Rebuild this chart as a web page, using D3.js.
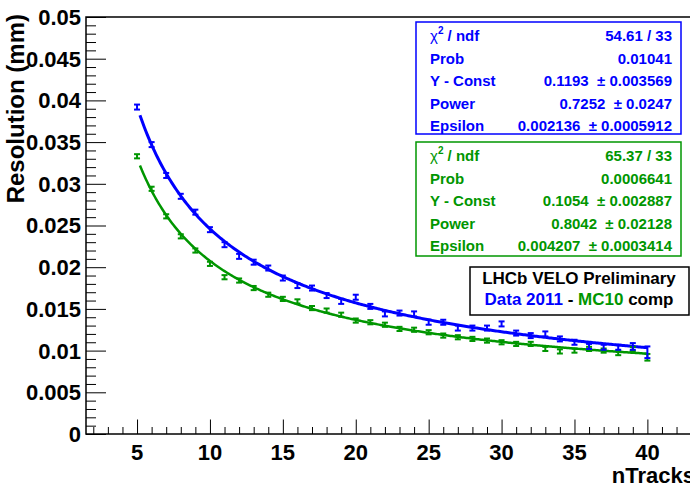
<!DOCTYPE html>
<html>
<head>
<meta charset="utf-8">
<script src="https://cdn.jsdelivr.net/npm/d3@7"></script>
<style>
  html, body { margin: 0; padding: 0; background: #fff; }
  svg { display: block; font-family: "Liberation Sans", Arial, Helvetica, sans-serif; font-weight: bold; }
</style>
</head>
<body>
<svg id="chart" width="690" height="484"></svg>
<script>
// Track multiplicity bins
const nTracks = [5,6,7,8,9,10,11,12,13,14,15,16,17,18,19,20,21,22,23,24,25,26,27,28,29,30,31,32,33,34,35,36,37,38,39,40];

// Data 2011 resolution (mm) and errors
const dataRes = [0.0392,0.0347,0.0310,0.0285,0.0266,0.0245,0.0227,0.0213,0.0206,0.0199,0.0187,0.0178,0.0175,0.0166,0.0159,0.0164,0.0153,0.0144,0.0145,0.0144,0.0134,0.0134,0.0127,0.0127,0.0127,0.0132,0.0121,0.0118,0.0120,0.0114,0.0110,0.0105,0.0104,0.0104,0.0105,0.0098];
const dataErr = [0.0003,0.0003,0.0003,0.0003,0.0003,0.0003,0.0003,0.0003,0.0003,0.0003,0.0003,0.0003,0.0003,0.0003,0.0003,0.0003,0.0003,0.0003,0.0003,0.0003,0.0003,0.0003,0.0003,0.0003,0.0003,0.0003,0.0003,0.0003,0.0003,0.0003,0.0003,0.0003,0.0003,0.0003,0.0004,0.0007];

// MC10 resolution (mm) and errors
const mcRes = [0.0333,0.0294,0.0261,0.0237,0.0220,0.0204,0.0188,0.0184,0.0175,0.0167,0.0162,0.0159,0.0151,0.0148,0.0143,0.0136,0.0134,0.0131,0.0126,0.0125,0.0122,0.0118,0.0116,0.0114,0.0112,0.0110,0.0108,0.0108,0.0102,0.0099,0.0100,0.0102,0.0100,0.0097,0.0102,0.0092];
const mcErr = [0.00025,0.00025,0.00025,0.00025,0.00025,0.00025,0.00025,0.00025,0.00025,0.00025,0.00025,0.00025,0.00025,0.00025,0.00025,0.00025,0.00025,0.00025,0.00025,0.00025,0.00025,0.00025,0.00025,0.00025,0.00025,0.00025,0.00025,0.00025,0.00025,0.00025,0.00025,0.00025,0.00025,0.00025,0.00025,0.0004];

// Fit results: resolution = Const * n^(-Power) + Epsilon
const dataFit = { chi2: "54.61 / 33", prob: "0.01041", yConst: 0.1193, yConstErr: "0.003569", power: 0.7252, powerErr: "0.0247", eps: 0.002136, epsErr: "0.0005912" };
const mcFit   = { chi2: "65.37 / 33", prob: "0.0006641", yConst: 0.1054, yConstErr: "0.002887", power: 0.8042, powerErr: "0.02128", eps: 0.004207, epsErr: "0.0003414" };

const xTicks = [5,10,15,20,25,30,35,40];
const yTicks = [0,0.005,0.01,0.015,0.02,0.025,0.03,0.035,0.04,0.045,0.05];

const BLUE = "#0000ff";
const GREEN = "#009600";

const svg = d3.select("#chart");
const frame = { left: 86, top: 17, right: 713, bottom: 434 };

const x = d3.scaleLinear().domain([1.5, 44.5]).range([frame.left, frame.right]);
const y = d3.scaleLinear().domain([0, 0.05]).range([frame.bottom, frame.top]);

// frame
svg.append("rect")
  .attr("x", frame.left).attr("y", frame.top)
  .attr("width", frame.right - frame.left).attr("height", frame.bottom - frame.top)
  .attr("fill", "none").attr("stroke", "#000").attr("stroke-width", 1.5);

// y axis: major ticks every 0.005, minor every 0.001, drawn inward
const yAxis = d3.axisRight(y).tickValues(yTicks).tickSize(20).tickFormat("");
const gy = svg.append("g").attr("transform", `translate(${frame.left},0)`).call(yAxis);
gy.select(".domain").remove();
const yMinor = d3.range(0, 0.0505, 0.001).filter(v => Math.abs(v / 0.005 - Math.round(v / 0.005)) > 1e-6);
svg.append("g").attr("transform", `translate(${frame.left},0)`)
  .call(d3.axisRight(y).tickValues(yMinor).tickSize(10).tickFormat(""))
  .select(".domain").remove();
svg.append("g").selectAll("text").data(yTicks).join("text")
  .attr("x", 81).attr("y", d => y(d)).attr("dy", "0.36em")
  .attr("text-anchor", "end").attr("font-size", 22)
  .text(d => d === 0 ? "0" : String(+d.toFixed(3)));

// x axis: major every 5, minor every 1, drawn inward
const gx = svg.append("g").attr("transform", `translate(0,${frame.bottom})`)
  .call(d3.axisTop(x).tickValues(xTicks).tickSize(14.5).tickFormat(""));
gx.select(".domain").remove();
const xMinor = d3.range(2, 45, 1).filter(v => v % 5 !== 0);
svg.append("g").attr("transform", `translate(0,${frame.bottom})`)
  .call(d3.axisTop(x).tickValues(xMinor).tickSize(7).tickFormat(""))
  .select(".domain").remove();
svg.append("g").selectAll("text").data(xTicks).join("text")
  .attr("x", d => x(d)).attr("y", 460)
  .attr("text-anchor", "middle").attr("font-size", 22)
  .text(d => d);

svg.selectAll(".tick line").attr("stroke", "#000").attr("stroke-width", 1);

// axis titles (x title right-aligned at the frame's end, beyond the canvas edge)
svg.append("text").attr("x", frame.right - 18).attr("y", 483).attr("text-anchor", "end")
  .attr("font-size", 22).text("nTracks");
svg.append("text").attr("transform", "translate(24,14) rotate(-90)")
  .attr("text-anchor", "end").attr("font-size", 24).text("Resolution (mm)");

// fit curves
function fitLine(p, color, width) {
  const pts = d3.range(5.2, 40.001, 0.1).map(n => [n, p.yConst * Math.pow(n, -p.power) + p.eps]);
  svg.append("path").datum(pts)
    .attr("fill", "none").attr("stroke", color).attr("stroke-width", width)
    .attr("stroke-linejoin", "round")
    .attr("d", d3.line().x(d => x(d[0])).y(d => y(d[1])));
}
fitLine(mcFit, GREEN, 2.5);
fitLine(dataFit, BLUE, 3);

// data points with error bars
function points(vals, errs, color) {
  const g = svg.append("g").attr("stroke", color).attr("stroke-width", 2).attr("fill", "none");
  nTracks.forEach((n, i) => {
    const cx = x(n), lo = y(vals[i] - errs[i]), hi = y(vals[i] + errs[i]);
    g.append("line").attr("x1", cx).attr("x2", cx).attr("y1", lo).attr("y2", hi);
    g.append("line").attr("x1", cx - 3).attr("x2", cx + 3).attr("y1", lo).attr("y2", lo);
    g.append("line").attr("x1", cx - 3).attr("x2", cx + 3).attr("y1", hi).attr("y2", hi);
  });
}
points(mcRes, mcErr, GREEN);
points(dataRes, dataErr, BLUE);

// statistics boxes
function statBox(p, color, top, bottom) {
  const g = svg.append("g");
  g.append("rect").attr("x", 416).attr("y", top).attr("width", 265).attr("height", bottom - top)
    .attr("fill", "#fff").attr("stroke", color).attr("stroke-width", 1.5);
  const rowsY = [14, 36.5, 59, 81.5, 104].map(d => top + d + 5);
  const labels = ["χ", "Prob", "Y - Const", "Power", "Epsilon"];
  const values = [p.chi2, p.prob,
    `${p.yConst}  ± ${p.yConstErr}`, `${p.power}  ± ${p.powerErr}`, `${p.eps}  ± ${p.epsErr}`];
  labels.forEach((lab, i) => {
    const t = g.append("text").attr("x", 430).attr("y", rowsY[i]).attr("font-size", 15).attr("fill", color);
    if (i === 0) {
      t.append("tspan").attr("font-weight", "normal").text("χ");
      t.append("tspan").attr("font-size", 10).attr("dy", -7).text("2");
      t.append("tspan").attr("dy", 7).text(" / ndf");
    } else {
      t.text(lab);
    }
    g.append("text").attr("x", 672).attr("y", rowsY[i]).attr("font-size", 15).attr("fill", color)
      .attr("text-anchor", "end").style("white-space", "pre").text(values[i]);
  });
}
statBox(dataFit, BLUE, 22, 134);
statBox(mcFit, GREEN, 142, 256);

// label box
const lg = svg.append("g");
lg.append("rect").attr("x", 470).attr("y", 267).attr("width", 219).attr("height", 48)
  .attr("fill", "#fff").attr("stroke", "#000").attr("stroke-width", 1.5);
lg.append("text").attr("x", 579).attr("y", 284).attr("text-anchor", "middle").attr("font-size", 17)
  .attr("fill", "#000").text("LHCb VELO Preliminary");
const t2 = lg.append("text").attr("x", 579).attr("y", 305).attr("text-anchor", "middle").attr("font-size", 17);
t2.append("tspan").attr("fill", BLUE).text("Data 2011");
t2.append("tspan").attr("fill", "#000").text(" - ");
t2.append("tspan").attr("fill", GREEN).text("MC10");
t2.append("tspan").attr("fill", "#000").text(" comp");
</script>
</body>
</html>
